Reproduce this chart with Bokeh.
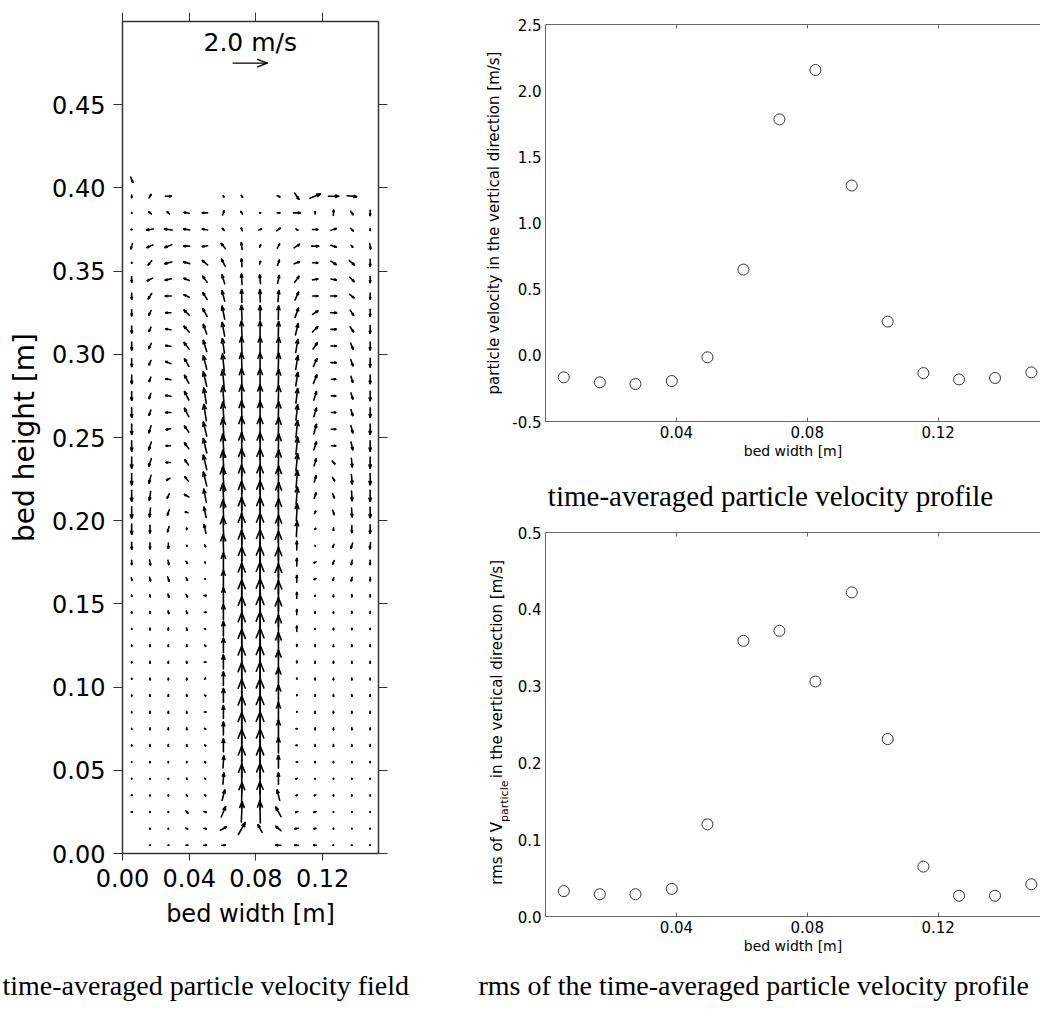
import math
from bokeh.plotting import figure
from bokeh.models import Range1d, LinearAxis, FixedTicker, PrintfTickFormatter
from bokeh.layouts import row, column
from bokeh.embed import file_html
from bokeh.resources import INLINE
from bokeh.core.properties import value

# ---------------- data ----------------
# measurement grid (bed width / bed height, m)
grid_x = [0.0055, 0.0165, 0.0275, 0.0385, 0.0495, 0.0605, 0.0715,
          0.0825, 0.0935, 0.1045, 0.1155, 0.1265, 0.1375, 0.1485]
grid_y = [0.005, 0.015, 0.025, 0.035, 0.045, 0.055, 0.065, 0.075, 0.085, 0.095,
          0.105, 0.115, 0.125, 0.135, 0.145, 0.155, 0.165, 0.175, 0.185, 0.195,
          0.205, 0.215, 0.225, 0.235, 0.245, 0.255, 0.265, 0.275, 0.285, 0.295,
          0.305, 0.315, 0.325, 0.335, 0.345, 0.355, 0.365, 0.375, 0.385, 0.395]

# horizontal velocity component u [m/s], one list per row (bottom row first)
U = [
    [None, 0.03, 0.03, 0.1, 0.15, 0.2, None, None, -0.3, -0.2, -0.15, -0.03, -0.03, -0.03],
    [None, 0, 0, 0.1, 0.12, 0.35, 0.4, -0.24, -0.3, -0.2, -0.1, 0, 0, 0],
    [0.06, 0, 0, 0.12, 0.15, 0.25, 0.05, -0.03, -0.3, -0.12, -0.12, 0, 0, 0],
    [0.05, 0, 0, 0.05, 0.06, 0.15, 0.03, -0.02, -0.15, -0.08, -0.08, 0, 0, 0],
    [0, 0, 0, 0, 0.05, 0.05, 0, 0, 0, -0.08, 0, 0, 0, 0],
    [0, 0, 0, 0, 0.05, 0.05, 0, 0, 0, 0.08, 0, 0, 0, 0],
    [0, 0, 0, 0, 0.06, 0, 0, 0, 0, -0.06, 0, 0, 0, 0],
    [0, 0, 0, 0, 0.06, 0, 0, 0, 0, -0.06, 0, 0, 0, 0],
    [0, 0, 0, 0, 0.08, 0, 0, 0, 0, 0, 0, 0, 0, 0],
    [0, 0, 0, 0, 0.06, 0, 0, 0, 0, 0, 0, 0, 0, 0],
    [0, 0, 0, 0, 0.03, 0, 0, 0, 0, 0, 0, 0, 0, 0],
    [0, 0, 0, 0, 0.08, 0, 0, 0, 0, 0, 0, 0, 0, 0],
    [0, 0, 0, 0, 0.06, 0, 0, 0, 0, 0, 0, 0, 0, 0],
    [0, 0, 0, 0.03, 0.05, 0, 0, 0, 0, 0, 0, 0, 0, 0],
    [0, 0, 0.05, 0.05, 0.1, 0, 0, 0, 0, 0, 0, 0, 0, 0],
    [0.02, 0.03, 0.05, 0.08, 0.12, 0, 0, 0, 0, 0, -0.03, 0, 0, 0],
    [0.03, 0.05, 0.08, 0.08, 0.02, 0, 0, 0, 0, 0, -0.1, -0.05, -0.05, 0],
    [0, 0.05, 0.05, 0.08, 0.02, 0, 0, 0, 0, 0, -0.1, -0.08, -0.05, 0],
    [0, 0, 0, 0, 0.05, -0.03, -0.02, 0, 0, 0, 0.02, -0.08, -0.1, -0.05],
    [0, 0, -0.08, 0, -0.1, -0.05, -0.02, 0, 0.02, 0.05, 0.05, 0, 0, 0],
    [0, -0.05, -0.1, -0.15, -0.12, -0.05, -0.02, 0, 0.02, 0.05, 0.05, 0.08, 0.03, 0],
    [0, -0.08, -0.12, -0.25, -0.15, -0.08, -0.02, 0, 0.03, 0.08, 0.1, 0.1, 0.03, 0],
    [0, -0.12, -0.2, -0.2, -0.2, -0.08, -0.02, 0, 0.03, 0.08, 0.1, 0.12, 0.05, 0],
    [0, -0.15, -0.25, -0.2, -0.2, -0.08, -0.02, 0, 0.03, 0.1, 0.12, 0.15, 0.05, 0],
    [0, -0.15, -0.25, -0.25, -0.2, -0.08, -0.02, 0, 0.03, 0.1, 0.15, 0.25, 0.1, 0],
    [0, -0.12, -0.25, -0.25, -0.2, -0.08, -0.02, 0, 0.03, 0.1, 0.15, 0.25, 0.1, 0],
    [0, -0.1, -0.3, -0.25, -0.15, -0.08, -0.02, 0, 0.03, 0.1, 0.15, 0.25, 0.1, 0],
    [0, -0.1, -0.3, -0.25, -0.15, -0.08, -0.02, 0, 0.03, 0.1, 0.15, 0.25, 0.1, 0],
    [0, -0.1, -0.3, -0.25, -0.2, -0.1, -0.02, 0, 0.03, 0.12, 0.2, 0.25, 0.1, 0],
    [0, -0.12, -0.3, -0.25, -0.2, -0.1, -0.03, 0, 0.03, 0.12, 0.2, 0.3, 0.12, 0],
    [0, -0.15, -0.3, -0.3, -0.2, -0.12, -0.03, 0, 0.03, 0.12, 0.25, 0.3, 0.15, 0],
    [0, -0.12, -0.3, -0.3, -0.2, -0.15, -0.03, 0, 0.02, 0.15, 0.3, 0.3, 0.2, 0],
    [0, -0.12, -0.3, -0.3, -0.25, -0.15, -0.03, 0, 0.02, 0.2, 0.3, 0.35, 0.2, 0],
    [0, -0.2, -0.35, -0.3, -0.25, -0.15, -0.02, -0.02, 0.05, 0.2, 0.3, 0.35, 0.25, 0],
    [0, -0.3, -0.35, -0.3, -0.25, -0.15, -0.03, -0.05, 0.1, 0.25, 0.3, 0.3, 0.25, 0],
    [0, -0.2, -0.4, -0.35, -0.3, -0.2, -0.03, 0.05, 0.1, 0.3, 0.3, 0.3, 0.3, 0],
    [-0.1, -0.35, -0.4, -0.35, -0.3, -0.25, -0.05, 0.05, 0.12, 0.3, 0.4, 0.3, 0.1, 0.05],
    [-0.05, -0.4, -0.45, -0.35, -0.3, -0.1, -0.05, 0.15, 0.2, 0.1, 0.3, 0.3, 0.15, 0],
    [0, -0.15, -0.12, -0.3, -0.3, 0.1, -0.08, 0.05, 0.15, 0.4, 0, 0.02, 0.15, 0],
    [0, 0.1, 0.35, None, None, 0.05, 0.08, None, 0.15, 0.23, 0.6, 0.6, 0.55, None],
]

# vertical velocity component v [m/s], one list per row (bottom row first)
V = [
    [None, 0, 0, 0, 0, 0, None, None, 0, 0, 0, 0, 0, 0],
    [None, -0.05, -0.04, -0.05, -0.03, 0.2, 0.7, 0.45, 0.25, -0.03, -0.03, -0.04, -0.03, -0.03],
    [0, -0.05, -0.05, -0.12, -0.05, 0.6, 1.2, 1.3, 0.55, -0.05, -0.05, -0.04, -0.03, -0.03],
    [0, -0.05, -0.06, -0.06, -0.05, 0.6, 1.5, 1.6, 0.6, -0.03, -0.03, -0.05, -0.05, -0.05],
    [-0.03, -0.05, -0.05, -0.06, -0.05, 0.65, 1.7, 1.8, 0.65, -0.03, -0.05, -0.05, -0.05, -0.05],
    [-0.03, -0.05, -0.06, -0.06, -0.05, 0.7, 1.85, 1.9, 0.75, 0, -0.05, -0.05, -0.05, -0.05],
    [-0.05, -0.1, -0.1, -0.1, -0.05, 0.75, 1.9, 1.95, 0.9, 0, -0.1, -0.1, -0.1, -0.1],
    [-0.05, -0.1, -0.1, -0.1, -0.05, 0.75, 1.9, 2.0, 1.0, 0, -0.1, -0.1, -0.1, -0.1],
    [-0.05, -0.1, -0.1, -0.1, 0, 0.75, 1.9, 2.0, 1.1, 0.05, -0.1, -0.1, -0.1, -0.1],
    [-0.05, -0.1, -0.1, -0.1, -0.05, 0.8, 1.9, 2.0, 1.2, 0.05, -0.1, -0.1, -0.1, -0.1],
    [-0.05, -0.1, -0.1, -0.1, 0.05, 0.8, 1.9, 2.0, 1.3, 0.05, -0.1, -0.1, -0.1, -0.1],
    [-0.05, -0.1, -0.1, -0.1, 0, 0.8, 1.9, 2.0, 1.4, 0.1, -0.1, -0.1, -0.1, -0.1],
    [-0.05, -0.1, -0.1, -0.1, -0.06, 0.85, 1.9, 2.05, 1.5, 0.12, -0.1, -0.1, -0.1, -0.1],
    [-0.05, -0.1, -0.12, -0.12, -0.03, 0.85, 1.9, 2.05, 1.6, 0.3, -0.05, -0.08, -0.08, -0.06],
    [-0.08, -0.12, -0.15, -0.15, 0, 0.9, 1.85, 2.05, 1.7, 0.3, -0.08, -0.08, -0.1, -0.1],
    [-0.08, -0.12, -0.18, -0.15, 0, 0.9, 1.85, 2.0, 1.75, 0.35, -0.05, -0.1, -0.12, -0.12],
    [-0.12, -0.2, -0.25, -0.15, 0, 1.0, 1.85, 2.0, 1.75, 0.4, -0.05, -0.15, -0.2, -0.2],
    [-0.25, -0.3, -0.25, -0.12, -0.05, 1.1, 1.8, 1.95, 1.75, 0.45, -0.05, -0.2, -0.25, -0.25],
    [-0.4, -0.35, -0.3, -0.05, -0.1, 1.3, 1.8, 1.9, 1.7, 0.5, -0.03, -0.15, -0.3, -0.35],
    [-0.6, -0.45, -0.3, 0.08, 0.5, 1.45, 1.8, 1.85, 1.6, 0.9, 0.05, -0.15, -0.4, -0.5],
    [-0.65, -0.5, -0.3, 0.05, 0.6, 1.45, 1.75, 1.8, 1.6, 1.0, 0.12, -0.25, -0.5, -0.6],
    [-0.65, -0.5, -0.25, 0.15, 0.75, 1.45, 1.7, 1.75, 1.55, 1.0, 0.3, -0.25, -0.55, -0.65],
    [-0.65, -0.45, -0.1, 0.25, 0.8, 1.45, 1.65, 1.7, 1.5, 1.0, 0.35, -0.2, -0.55, -0.65],
    [-0.65, -0.45, 0, 0.3, 0.85, 1.4, 1.6, 1.65, 1.45, 1.0, 0.4, -0.15, -0.5, -0.65],
    [-0.6, -0.45, 0, 0.35, 0.85, 1.35, 1.55, 1.55, 1.4, 1.0, 0.45, 0, -0.45, -0.6],
    [-0.6, -0.4, -0.05, 0.35, 0.8, 1.3, 1.5, 1.5, 1.35, 1.0, 0.55, 0, -0.4, -0.6],
    [-0.55, -0.3, 0, 0.5, 0.95, 1.2, 1.35, 1.35, 1.25, 0.9, 0.5, 0, -0.35, -0.55],
    [-0.5, -0.3, 0.05, 0.5, 0.9, 1.15, 1.3, 1.3, 1.2, 0.85, 0.5, 0, -0.35, -0.55],
    [-0.5, -0.25, 0.05, 0.45, 0.85, 1.1, 1.25, 1.25, 1.15, 0.8, 0.5, 0, -0.35, -0.5],
    [-0.45, -0.25, 0.12, 0.45, 0.8, 1.0, 1.15, 1.15, 1.1, 0.8, 0.45, 0, -0.35, -0.5],
    [-0.45, -0.3, 0.05, 0.4, 0.65, 0.85, 1.05, 1.05, 1.0, 0.75, 0.35, 0, -0.35, -0.45],
    [-0.4, -0.25, 0.05, 0.35, 0.55, 0.8, 0.95, 0.95, 0.9, 0.65, 0.3, 0, -0.3, -0.45],
    [-0.35, -0.25, 0, 0.3, 0.45, 0.75, 0.85, 0.8, 0.8, 0.55, 0.2, 0, -0.3, -0.4],
    [-0.35, -0.3, 0, 0.15, 0.4, 0.6, 0.75, 0.7, 0.65, 0.45, 0, 0, -0.2, -0.35],
    [-0.3, -0.15, -0.08, 0.12, 0.35, 0.5, 0.6, 0.5, 0.45, 0.35, 0.05, -0.05, -0.25, -0.35],
    [-0.05, -0.25, -0.1, 0.1, 0.25, 0.4, 0.45, 0.15, 0.3, 0.12, 0, -0.2, -0.25, -0.4],
    [-0.3, -0.15, -0.15, 0, -0.05, 0.3, 0.4, 0.12, 0.25, 0.2, 0, -0.1, -0.1, -0.3],
    [0, -0.05, 0.05, 0.05, 0.05, 0.1, 0.15, 0.05, 0.15, -0.08, 0, 0.1, -0.15, -0.1],
    [-0.05, 0.12, 0.12, 0.05, 0, 0.25, 0.15, 0, 0, 0, 0.12, 0.3, -0.2, -0.3],
    [-0.15, 0.2, 0, None, None, -0.05, -0.1, None, -0.08, -0.35, 0.25, 0, -0.05, None],
]

# single extra vector above the grid (left wall)
extra_x = [0.0055]
extra_y = [0.405]
extra_u = [0.12]
extra_v = [-0.3]

ref_speed = 2.0          # reference arrow [m/s]
ref_label = "2.0 m/s"

# time-averaged vertical particle velocity profile
profile_x = [0.0056, 0.0166, 0.0275, 0.0386, 0.0495, 0.0605, 0.0715,
             0.0825, 0.0936, 0.1046, 0.1155, 0.1264, 0.1374, 0.1485]
mean_v = [-0.166, -0.204, -0.217, -0.194, -0.015, 0.648, 1.783,
          2.156, 1.283, 0.255, -0.134, -0.182, -0.171, -0.129]
rms_v = [0.033, 0.029, 0.029, 0.036, 0.120, 0.359, 0.372,
         0.306, 0.422, 0.231, 0.065, 0.027, 0.027, 0.042]

# ticks
field_y_ticks = [0.00, 0.05, 0.10, 0.15, 0.20, 0.25, 0.30, 0.35, 0.40, 0.45]
field_x_ticks = [0.00, 0.04, 0.08, 0.12]
prof_x_ticks = [0.04, 0.08, 0.12]
mean_y_ticks = [-0.5, 0.0, 0.5, 1.0, 1.5, 2.0, 2.5]
rms_y_ticks = [0.0, 0.1, 0.2, 0.3, 0.4, 0.5]

# captions / labels
cap_field = "time-averaged particle velocity field"
cap_profile = "time-averaged particle velocity profile"
cap_rms = "rms of the time-averaged particle velocity profile"
rms_label_parts = ["rms of V", "particle", "in the vertical direction [m/s]"]

# ---------------- styling constants ----------------
SANS = "DejaVu Sans"
SERIF = "Liberation Serif"
SCALE = 0.0102           # m of arrow per m/s
HEAD = 0.3               # arrow head length as fraction of arrow length
HEAD_ANG = 0.38          # half opening angle (rad)
REF_X0, REF_Y = 0.0663, 0.475
REF_LABEL_X, REF_LABEL_Y = 0.0766, 0.4875


def add_arrow(segs, xc, yc, u, v, centred=True):
    dx, dy = u * SCALE, v * SCALE
    if centred:
        sx, sy = xc - dx / 2, yc - dy / 2
    else:
        sx, sy = xc, yc
    ex, ey = sx + dx, sy + dy
    segs[0].append(sx); segs[1].append(sy); segs[2].append(ex); segs[3].append(ey)
    L = math.hypot(dx, dy)
    if L > 0:
        th = math.atan2(dy, dx)
        h = HEAD * L
        for a in (HEAD_ANG, -HEAD_ANG):
            segs[0].append(ex); segs[1].append(ey)
            segs[2].append(ex - h * math.cos(th + a))
            segs[3].append(ey - h * math.sin(th + a))


segs = ([], [], [], [])
for j, yy in enumerate(grid_y):
    for i, xx in enumerate(grid_x):
        u, v = U[j][i], V[j][i]
        if u is None or v is None:
            continue
        add_arrow(segs, xx, yy, u, v)
for xx, yy, u, v in zip(extra_x, extra_y, extra_u, extra_v):
    add_arrow(segs, xx, yy, u, v)

ref_segs = ([], [], [], [])
add_arrow(ref_segs, REF_X0, REF_Y, ref_speed, 0.0, centred=False)


def bare(w, h, xr, yr):
    f = figure(width=w, height=h, x_range=Range1d(*xr), y_range=Range1d(*yr),
               toolbar_location=None, output_backend="svg", x_axis_location=None,
               y_axis_location=None, min_border=0, min_border_left=0, min_border_right=0,
               min_border_top=0, min_border_bottom=0)
    f.grid.visible = False
    f.outline_line_color = None
    return f


# ---------------- left: velocity field ----------------
left = figure(width=470, height=956, x_range=Range1d(0, 0.1535), y_range=Range1d(0, 0.5),
              toolbar_location=None, output_backend="svg",
              min_border_left=122, min_border_right=92, min_border_top=21, min_border_bottom=103)
left.grid.visible = False
left.outline_line_color = "#333333"
left.outline_line_width = 1.5

left.segment(x0=segs[0], y0=segs[1], x1=segs[2], y1=segs[3],
             line_color="black", line_width=1.6, line_cap="round")
left.segment(x0=ref_segs[0], y0=ref_segs[1], x1=ref_segs[2], y1=ref_segs[3],
             line_color="black", line_width=1.3, line_cap="round")
left.text(x=[REF_LABEL_X], y=[REF_LABEL_Y], text=[ref_label], text_align="center",
          text_baseline="middle", text_font=value(SANS), text_font_size="25px", text_color="black")

for ax in (left.xaxis[0], left.yaxis[0]):
    ax.axis_line_color = None
    ax.major_tick_line_color = "#333333"
    ax.minor_tick_line_color = None
    ax.major_tick_in = 0
    ax.major_label_text_font = SANS
    ax.major_label_text_font_size = "24px"
    ax.major_label_text_color = "black"
    ax.axis_label_text_font = SANS
    ax.axis_label_text_font_style = "normal"
    ax.axis_label_text_color = "black"
    ax.formatter = PrintfTickFormatter(format="%.2f")

left.xaxis.ticker = FixedTicker(ticks=field_x_ticks)
left.xaxis.major_tick_out = 7
left.xaxis.major_label_standoff = 8
left.xaxis.axis_label = "bed width [m]"
left.xaxis.axis_label_text_font_size = "24px"
left.xaxis.axis_label_standoff = 10

left.yaxis.ticker = FixedTicker(ticks=field_y_ticks)
left.yaxis.major_tick_out = 9
left.yaxis.major_label_standoff = 8
left.yaxis.axis_label = "bed height [m]"
left.yaxis.axis_label_text_font_size = "28px"
left.yaxis.axis_label_standoff = 8

top_ax = LinearAxis(ticker=FixedTicker(ticks=field_x_ticks), axis_line_color=None,
                    major_tick_line_color="#333333", major_tick_in=0, major_tick_out=9,
                    minor_tick_line_color=None, major_label_text_font_size="0px",
                    major_label_text_color=None, major_label_standoff=0)
left.add_layout(top_ax, "above")
right_ax = LinearAxis(ticker=FixedTicker(ticks=field_y_ticks), axis_line_color=None,
                      major_tick_line_color="#333333", major_tick_in=0, major_tick_out=9,
                      minor_tick_line_color=None, major_label_text_font_size="0px",
                      major_label_text_color=None, major_label_standoff=0)
left.add_layout(right_ax, "right")


# ---------------- helpers ----------------
def style_profile(p, yticks, ylabel):
    p.grid.visible = False
    p.outline_line_color = None
    p.xaxis.ticker = FixedTicker(ticks=prof_x_ticks)
    p.xaxis.formatter = PrintfTickFormatter(format="%.2f")
    p.yaxis.ticker = FixedTicker(ticks=yticks)
    p.yaxis.formatter = PrintfTickFormatter(format="%.1f")
    for ax in (p.xaxis[0], p.yaxis[0]):
        ax.axis_line_color = "#666666"
        ax.minor_tick_line_color = None
        ax.major_label_text_font = SANS
        ax.major_label_text_font_size = "15px"
        ax.major_label_text_color = "black"
        ax.major_label_standoff = 4
        ax.axis_label_text_font = SANS
        ax.axis_label_text_font_style = "normal"
        ax.axis_label_text_color = "black"
    p.xaxis.major_tick_in = 4
    p.xaxis.major_tick_out = 0
    p.xaxis.major_tick_line_color = "#666666"
    p.xaxis.axis_label = "bed width [m]"
    p.xaxis.axis_label_text_font_size = "14px"
    p.xaxis.axis_label_standoff = 2
    p.yaxis.major_tick_in = 0
    p.yaxis.major_tick_out = 0
    p.yaxis.major_tick_line_color = None
    if ylabel:
        p.yaxis.axis_label = ylabel
        p.yaxis.axis_label_text_font_size = "15px"
        p.yaxis.axis_label_standoff = 6
    top = LinearAxis(ticker=FixedTicker(ticks=prof_x_ticks), axis_line_color="#666666",
                     major_tick_line_color="#666666", major_tick_in=4, major_tick_out=0,
                     minor_tick_line_color=None, major_label_text_font_size="0px",
                     major_label_text_color=None, major_label_standoff=0)
    p.add_layout(top, "above")


# ---------------- right top: mean profile ----------------
r1 = figure(width=570, height=470, x_range=Range1d(0, 0.1513), y_range=Range1d(-0.5, 2.5),
            toolbar_location=None, output_backend="svg",
            min_border_left=75, min_border_right=0, min_border_top=24, min_border_bottom=49)
style_profile(r1, mean_y_ticks, "particle velocity in the vertical direction [m/s]")
r1.scatter(profile_x, mean_v, marker="circle", size=11, fill_color=None,
           line_color="#333333", line_width=1)

# caption between the right plots (its frame is aligned to r1's frame: page x 545..1040)
cap_mid = bare(570, 55, (545, 1040), (-525, -470))
cap_mid.text(x=[770], y=[-495], text=[cap_profile], text_align="center", text_baseline="middle",
             text_font=value(SERIF), text_font_size="29px", text_color="black")

# ---------------- right bottom: rms profile ----------------
r2 = figure(width=528, height=431, x_range=Range1d(0, 0.1513), y_range=Range1d(0, 0.5),
            toolbar_location=None, output_backend="svg",
            min_border_left=33, min_border_right=0, min_border_top=7, min_border_bottom=38)
style_profile(r2, rms_y_ticks, None)
r2.scatter(profile_x, rms_v, marker="circle", size=11, fill_color=None,
           line_color="#333333", line_width=1)

# rotated y label with subscript (strip frame is aligned with r2's frame: page y 532..918)
strip = bare(42, 431, (470, 512), (-918, -532))
for lx, ly, txt, fs in ((496, -886, rms_label_parts[0], "15px"),
                        (504, -823, rms_label_parts[1], "11px"),
                        (496, -779, rms_label_parts[2], "15px")):
    strip.text(x=[lx], y=[ly], text=[txt], angle=math.pi / 2, text_align="left",
               text_baseline="middle", text_font=value(SANS), text_font_size=fs,
               text_color="black")

# ---------------- bottom captions ----------------
cap_bottom = bare(1040, 60, (0, 1040), (-1016, -956))
cap_bottom.text(x=[2, 478], y=[-985, -985], text=[cap_field, cap_rms], text_align="left",
                text_baseline="middle", text_font=value(SERIF), text_font_size="28px",
                text_color="black")

layout = column(row(left, column(r1, cap_mid, row(strip, r2))), cap_bottom)

with open("out.html", "w") as fh:
    fh.write(file_html(layout, INLINE, "particle velocity"))
